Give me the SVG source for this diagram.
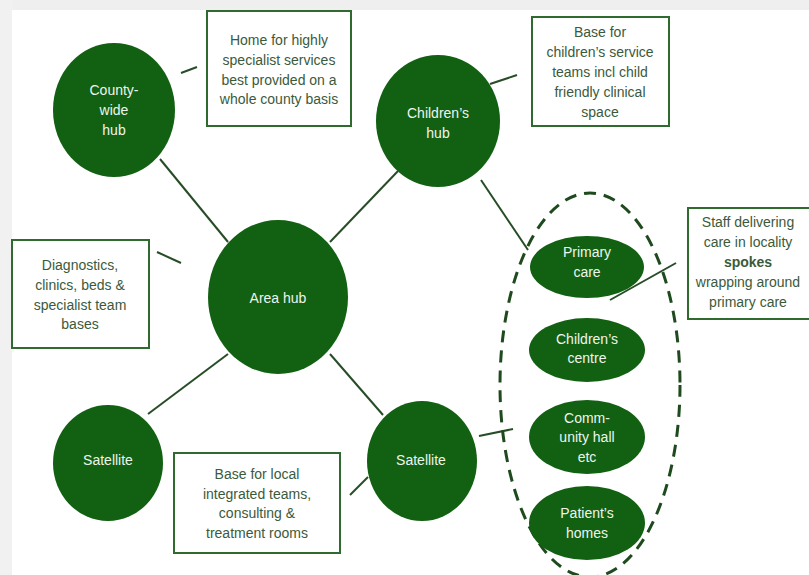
<svg xmlns="http://www.w3.org/2000/svg" width="809" height="575" viewBox="0 0 809 575">
<style>
.node{fill:#126012}
.nt{font-family:"Liberation Sans",Arial,sans-serif;font-size:14px;fill:#eef5ee;text-anchor:middle}
.box{fill:#ffffff;stroke:#2f6a2f;stroke-width:2}
.bt{font-family:"Liberation Sans",Arial,sans-serif;font-size:14px;fill:#3b5a3b;text-anchor:middle}
.conn line{stroke:#274d27;stroke-width:2}
.dash{fill:none;stroke:#1e4a1e;stroke-width:3;stroke-dasharray:12 8}
</style>
<rect x="0" y="0" width="809" height="575" fill="#ffffff"/>
<rect x="0" y="0" width="809" height="10" fill="#efefef"/>
<rect x="0" y="0" width="12" height="575" fill="#f1f1f1"/>

<g id="connectors" class="conn">
<line x1="160" y1="159" x2="228" y2="242"/>
<line x1="398" y1="171" x2="330" y2="242"/>
<line x1="228" y1="354" x2="148" y2="414"/>
<line x1="330" y1="354" x2="383" y2="415"/>
<line x1="481" y1="180" x2="528" y2="250"/>
<line x1="479" y1="436" x2="513" y2="429"/>
<line x1="610" y1="300" x2="676" y2="263"/>
<line x1="181" y1="73" x2="197" y2="67"/>
<line x1="490" y1="84" x2="517" y2="75"/>
<line x1="157" y1="252" x2="181" y2="263"/>
<line x1="350" y1="495" x2="368" y2="477"/>
</g>

<g id="locality">
<ellipse class="dash" cx="590" cy="385" rx="90" ry="192"/>
</g>

<g id="county-hub">
<ellipse class="node" cx="114" cy="110" rx="61" ry="67"/>
<text class="nt" x="114" y="95">County-</text>
<text class="nt" x="114" y="115">wide</text>
<text class="nt" x="114" y="135">hub</text>
</g>
<g id="childrens-hub">
<ellipse class="node" cx="438" cy="121" rx="62" ry="66"/>
<text class="nt" x="438" y="118">Children’s</text>
<text class="nt" x="438" y="138">hub</text>
</g>
<g id="area-hub">
<ellipse class="node" cx="278" cy="297" rx="70" ry="77"/>
<text class="nt" x="278" y="303">Area hub</text>
</g>
<g id="satellite-left">
<ellipse class="node" cx="108" cy="463" rx="55" ry="58"/>
<text class="nt" x="108" y="465">Satellite</text>
</g>
<g id="satellite-right">
<ellipse class="node" cx="422" cy="461" rx="55" ry="60"/>
<text class="nt" x="421" y="465">Satellite</text>
</g>
<g id="primary-care">
<ellipse class="node" cx="587" cy="267" rx="57" ry="31"/>
<text class="nt" x="587" y="257">Primary</text>
<text class="nt" x="587" y="277">care</text>
</g>
<g id="childrens-centre">
<ellipse class="node" cx="587" cy="350" rx="58" ry="32"/>
<text class="nt" x="587" y="344">Children’s</text>
<text class="nt" x="587" y="363">centre</text>
</g>
<g id="community-hall">
<ellipse class="node" cx="587" cy="437" rx="58" ry="37"/>
<text class="nt" x="587" y="423">Comm-</text>
<text class="nt" x="587" y="442">unity hall</text>
<text class="nt" x="587" y="462">etc</text>
</g>
<g id="patients-homes">
<ellipse class="node" cx="587" cy="523" rx="58" ry="37"/>
<text class="nt" x="587" y="518">Patient’s</text>
<text class="nt" x="587" y="538">homes</text>
</g>

<g id="box-county">
<rect class="box" x="207" y="11" width="144" height="115"/>
<text class="bt" x="279" y="45">Home for highly</text>
<text class="bt" x="279" y="65">specialist services</text>
<text class="bt" x="279" y="85">best provided on a</text>
<text class="bt" x="279" y="104">whole county basis</text>
</g>
<g id="box-children">
<rect class="box" x="532" y="17" width="137" height="109"/>
<text class="bt" x="600" y="37">Base for</text>
<text class="bt" x="600" y="57">children’s service</text>
<text class="bt" x="600" y="77">teams incl child</text>
<text class="bt" x="600" y="97">friendly clinical</text>
<text class="bt" x="600" y="117">space</text>
</g>
<g id="box-area">
<rect class="box" x="12" y="240" width="137" height="108"/>
<text class="bt" x="80" y="270">Diagnostics,</text>
<text class="bt" x="80" y="290">clinics, beds &amp;</text>
<text class="bt" x="80" y="310">specialist team</text>
<text class="bt" x="80" y="329">bases</text>
</g>
<g id="box-satellite">
<rect class="box" x="174" y="453" width="166" height="100"/>
<text class="bt" x="257" y="479">Base for local</text>
<text class="bt" x="257" y="499">integrated teams,</text>
<text class="bt" x="257" y="518">consulting &amp;</text>
<text class="bt" x="257" y="538">treatment rooms</text>
</g>
<g id="box-spokes">
<rect class="box" x="688" y="208" width="130" height="111"/>
<text class="bt" x="748" y="227">Staff delivering</text>
<text class="bt" x="748" y="247">care in locality</text>
<text class="bt" x="748" y="267" font-weight="bold" fill="#1f4a1f">spokes</text>
<text class="bt" x="748" y="287">wrapping around</text>
<text class="bt" x="748" y="307">primary care</text>
</g>
</svg>
